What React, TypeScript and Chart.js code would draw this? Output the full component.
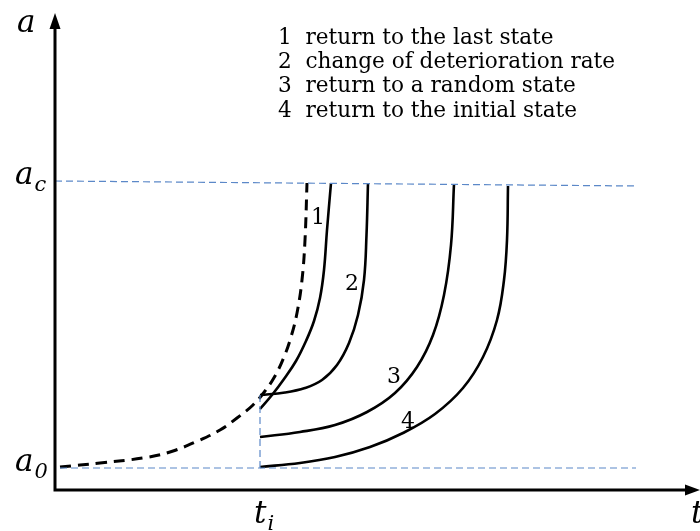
import React, { useEffect, useRef } from "react";
import { Chart, registerables } from "chart.js";

Chart.register(...registerables);

// ---- data (t in arbitrary time units, a in arbitrary damage units) ----
const A0 = 0.44;
const TI = 4.1;
const X_AXIS_END = 12.9;
const Y_AXIS_END = 9.54;

const acLine = [
  { x: 0, y: 6.18 },
  { x: 11.64, y: 6.08 },
];
const a0Line = [
  { x: 0.1, y: A0 },
  { x: 11.62, y: A0 },
];
const tiLine = [
  { x: TI, y: A0 },
  { x: TI, y: 1.9 },
];

const originalPath = [
  { x: 0.1, y: 0.46 }, { x: 0.9, y: 0.54 }, { x: 1.76, y: 0.64 }, { x: 2.3, y: 0.76 },
  { x: 2.9, y: 1.0 }, { x: 3.3, y: 1.2 }, { x: 3.64, y: 1.44 },
  { x: 3.96, y: 1.7 }, { x: 4.2, y: 1.98 }, { x: 4.4, y: 2.28 }, { x: 4.58, y: 2.66 },
  { x: 4.72, y: 3.06 }, { x: 4.84, y: 3.54 }, { x: 4.94, y: 4.2 }, { x: 5.0, y: 5.0 },
  { x: 5.04, y: 6.14 },
];
const curve1 = [
  { x: 4.1, y: 1.62 }, { x: 4.34, y: 1.9 }, { x: 4.58, y: 2.22 }, { x: 4.82, y: 2.58 },
  { x: 5.02, y: 2.98 }, { x: 5.18, y: 3.38 }, { x: 5.3, y: 3.84 }, { x: 5.38, y: 4.4 },
  { x: 5.44, y: 5.2 }, { x: 5.52, y: 6.14 },
];
const curve2 = [
  { x: 4.1, y: 1.9 }, { x: 4.6, y: 1.95 }, { x: 5.0, y: 2.04 }, { x: 5.34, y: 2.2 },
  { x: 5.64, y: 2.5 }, { x: 5.88, y: 2.94 }, { x: 6.06, y: 3.5 }, { x: 6.18, y: 4.2 },
  { x: 6.23, y: 5.1 }, { x: 6.26, y: 6.14 },
];
const curve3 = [
  { x: 4.1, y: 1.06 }, { x: 4.9, y: 1.16 }, { x: 5.6, y: 1.3 }, { x: 6.24, y: 1.56 },
  { x: 6.8, y: 1.94 }, { x: 7.24, y: 2.46 }, { x: 7.56, y: 3.1 }, { x: 7.78, y: 3.9 },
  { x: 7.92, y: 4.9 }, { x: 7.98, y: 6.12 },
];
const curve4 = [
  { x: 4.1, y: 0.46 }, { x: 4.9, y: 0.54 }, { x: 5.6, y: 0.66 }, { x: 6.3, y: 0.86 },
  { x: 6.96, y: 1.14 }, { x: 7.6, y: 1.52 }, { x: 8.16, y: 2.04 }, { x: 8.56, y: 2.66 },
  { x: 8.84, y: 3.4 }, { x: 8.98, y: 4.2 }, { x: 9.04, y: 5.0 }, { x: 9.06, y: 6.08 },
];

const curveLabels = [
  { text: "1", x: 5.26, y: 5.44 },
  { text: "2", x: 5.94, y: 4.12 },
  { text: "3", x: 6.78, y: 2.26 },
  { text: "4", x: 7.06, y: 1.36 },
];
const legendLines = [
  "1  return to the last state",
  "2  change of deterioration rate",
  "3  return to a random state",
  "4  return to the initial state",
];
const yTickLabels = [
  { main: "a", sub: "0", value: A0 },
  { main: "a", sub: "c", value: 6.18 },
];
const xTickLabels = [{ main: "t", sub: "i", value: TI }];

const SERIF = '"DejaVu Serif", "Liberation Serif", serif';
const BLUE = "#5B88C8";

function drawSub(ctx: CanvasRenderingContext2D, main: string, sub: string, x: number, y: number) {
  ctx.font = `italic 31px ${SERIF}`;
  ctx.fillText(main, x, y);
  const w = ctx.measureText(main).width;
  if (sub) {
    ctx.font = `italic 21px ${SERIF}`;
    ctx.fillText(sub, x + w + 1, y + 7);
  }
}

const overlay = {
  id: "overlay",
  afterDatasetsDraw(chart: any) {
    const ctx: CanvasRenderingContext2D = chart.ctx;
    const xs = chart.scales.x;
    const ys = chart.scales.y;
    const ox = xs.getPixelForValue(0);
    const oy = ys.getPixelForValue(0);
    const xEnd = xs.getPixelForValue(X_AXIS_END);
    const yEnd = ys.getPixelForValue(Y_AXIS_END);
    ctx.save();
    ctx.strokeStyle = "#000";
    ctx.fillStyle = "#000";
    ctx.lineWidth = 3;
    ctx.setLineDash([]);
    ctx.beginPath();
    ctx.moveTo(ox - 1.5, oy);
    ctx.lineTo(xEnd - 10, oy);
    ctx.moveTo(ox, oy + 1.5);
    ctx.lineTo(ox, yEnd + 10);
    ctx.stroke();
    ctx.beginPath();
    ctx.moveTo(xEnd, oy);
    ctx.lineTo(xEnd - 15, oy - 5.5);
    ctx.lineTo(xEnd - 15, oy + 5.5);
    ctx.closePath();
    ctx.fill();
    ctx.beginPath();
    ctx.moveTo(ox, yEnd);
    ctx.lineTo(ox - 5.5, yEnd + 16);
    ctx.lineTo(ox + 5.5, yEnd + 16);
    ctx.closePath();
    ctx.fill();

    ctx.textAlign = "left";
    ctx.textBaseline = "alphabetic";
    drawSub(ctx, "a", "", ox - 38, yEnd + 19);
    drawSub(ctx, "t", "", xEnd - 9, oy + 33);

    yTickLabels.forEach((l) => {
      drawSub(ctx, l.main, l.sub, ox - 40, ys.getPixelForValue(l.value) + 3);
    });
    xTickLabels.forEach((l) => {
      drawSub(ctx, l.main, l.sub, xs.getPixelForValue(l.value) - 6, oy + 33);
    });

    ctx.font = `22px ${SERIF}`;
    ctx.textAlign = "center";
    ctx.textBaseline = "middle";
    curveLabels.forEach((l) => {
      ctx.fillText(l.text, xs.getPixelForValue(l.x), ys.getPixelForValue(l.y));
    });

    ctx.textAlign = "left";
    ctx.font = `21.6px ${SERIF}`;
    legendLines.forEach((line, i) => {
      ctx.fillText(line, 278, 38 + i * 24.4);
    });
    ctx.restore();
  },
};

export default function App() {
  const ref = useRef<HTMLCanvasElement>(null);
  useEffect(() => {
    if (!ref.current) return;
    const blueDash = {
      borderColor: BLUE,
      borderWidth: 1.2,
      borderDash: [7, 4],
      pointRadius: 0,
      tension: 0,
    };
    const solid = {
      borderColor: "#000",
      borderWidth: 2.6,
      pointRadius: 0,
      tension: 0.4,
    };
    const chart = new Chart(ref.current, {
      type: "line",
      data: {
        datasets: [
          { ...blueDash, data: acLine },
          { ...blueDash, data: a0Line },
          { ...blueDash, data: tiLine },
          {
            data: originalPath,
            borderColor: "#000",
            borderWidth: 3,
            borderDash: [11, 7],
            pointRadius: 0,
            tension: 0.4,
          },
          { ...solid, data: curve1 },
          { ...solid, data: curve2 },
          { ...solid, data: curve3 },
          { ...solid, data: curve4 },
        ] as any,
      },
      options: {
        animation: false,
        responsive: false,
        devicePixelRatio: 1,
        layout: { padding: 0 },
        elements: { line: { capBezierPoints: false } },
        plugins: { legend: { display: false }, tooltip: { enabled: false } },
        scales: {
          x: { type: "linear", min: -1.1, max: 12.9, display: false },
          y: { type: "linear", min: -0.82, max: 9.8, display: false },
        },
      },
      plugins: [overlay],
    });
    return () => chart.destroy();
  }, []);
  return (
    <div style={{ position: "absolute", left: 0, top: 0, width: 700, height: 531, background: "#fff" }}>
      <canvas ref={ref} width={700} height={531} />
    </div>
  );
}
